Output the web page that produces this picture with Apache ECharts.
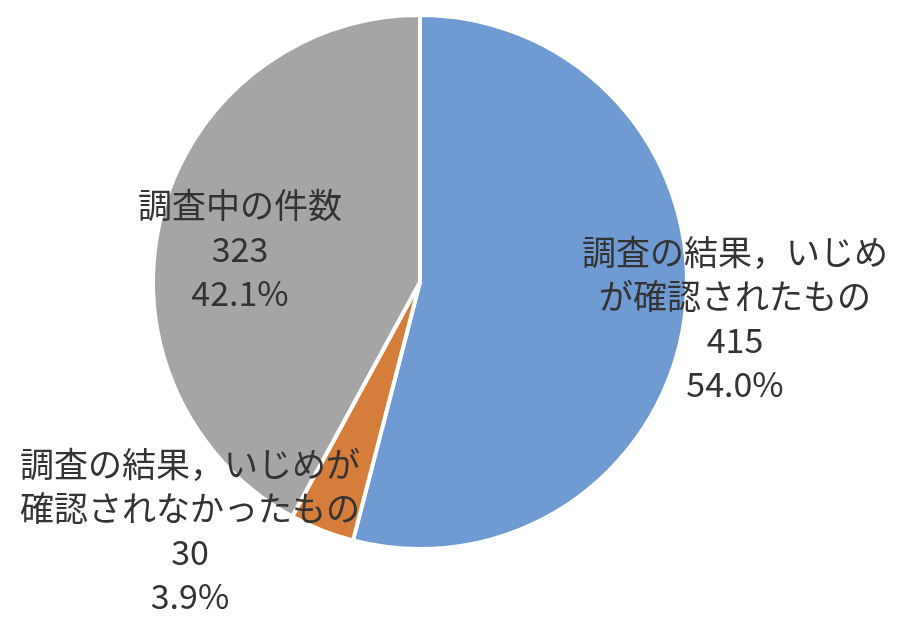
<!DOCTYPE html>
<html><head><meta charset="utf-8">
<script src="https://cdn.jsdelivr.net/npm/echarts@6/dist/echarts.min.js"></script>
<style>html,body{margin:0;padding:0;background:#fff}#c{width:900px;height:625px}</style>
</head><body><div id="c"></div>
<script>
const categories = ['調査の結果，いじめ\nが確認されたもの', '調査の結果，いじめが\n確認されなかったもの', '調査中の件数'];
const values = [415, 30, 323];
const colors = ['#709AD2', '#D57D3A', '#A5A5A5'];
const labelPos = [[735, 318], [190, 530], [240, 249]];

const chart = echarts.init(document.getElementById('c'), null, {renderer: 'canvas'});
chart.setOption({
  animation: false,
  series: [{
    type: 'pie',
    center: [420, 282],
    radius: [0, 267],
    startAngle: 90,
    clockwise: true,
    percentPrecision: 1,
    data: categories.map((n, i) => ({name: n, value: values[i], itemStyle: {color: colors[i]}})),
    itemStyle: {borderColor: '#fff', borderWidth: 4},
    label: {
      show: true,
      position: 'inside',
      formatter: p => p.name + '\n' + p.value + '\n' + p.percent.toFixed(1) + '%',
      color: '#333',
      fontFamily: '"Liberation Sans Narrow", "Noto Sans CJK JP"',
      fontSize: 34,
      lineHeight: 44,
      align: 'center'
    },
    labelLine: {show: false},
    labelLayout: function (p) {
      const pos = labelPos[p.dataIndex];
      return {x: pos[0], y: pos[1], align: 'center', verticalAlign: 'middle'};
    }
  }]
});
</script></body></html>
